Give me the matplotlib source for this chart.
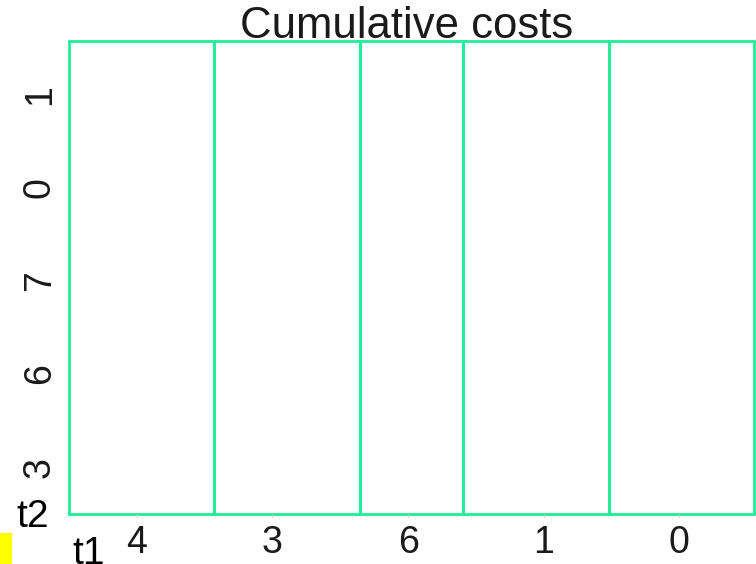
import matplotlib
matplotlib.use("Agg")
import matplotlib.pyplot as plt
from matplotlib.patches import Rectangle

# Mosaic of cumulative costs: one column per x category
x_labels = ["4", "3", "6", "1", "0"]
y_labels = ["3", "6", "7", "0", "1"]
col_weights = [1.4, 1.4, 1.0, 1.4, 1.4]

plt.rcParams["font.family"] = ["Liberation Sans", "DejaVu Sans"]

fig = plt.figure(figsize=(7.56, 5.64), dpi=100)
ax = fig.add_axes([69 / 756, 1 - 514 / 564, 685 / 756, 473 / 564])

x_max = 5.05
y_max = 5.07
ax.set_xlim(0, x_max)
ax.set_ylim(0, y_max)

edge = "#1FEE98"
total = sum(col_weights)
left = 0.0
for w in col_weights:
    width = w / total * x_max
    ax.add_patch(Rectangle((left, 0), width, y_max, fill=False,
                           edgecolor=edge, linewidth=2.0, clip_on=False))
    left += width

ax.set_xticks([i + 0.5 for i in range(len(x_labels))])
ax.set_xticklabels(x_labels)
ax.set_yticks([i + 0.5 for i in range(len(y_labels))])
ax.set_yticklabels(y_labels, va="center")

ax.tick_params(axis="x", length=2, width=0.8, color="#c8c8c8",
               labelsize=27, pad=6, labelcolor="#1a1a1a")
ax.tick_params(axis="y", length=0, labelsize=27, pad=8,
               labelrotation=90, labelcolor="#1a1a1a")
for s in ax.spines.values():
    s.set_visible(False)

fig.text(406.5 / 756, 1 - 38.5 / 564, "Cumulative costs", ha="center",
         va="baseline", fontsize=31.5, color="#1a1a1a")

fig.text(16 / 756, 1 - 527 / 564, "t2", ha="left", va="baseline",
         fontsize=28, color="black")
fig.text(72 / 756, 0.0, "t1", ha="left", va="baseline",
         fontsize=28, color="black")

fig.patches.append(Rectangle((0, 0), 12 / 756, 31 / 564, transform=fig.transFigure,
                             facecolor="#FFFF00", edgecolor="none"))

fig.savefig("out.png", dpi=100)
